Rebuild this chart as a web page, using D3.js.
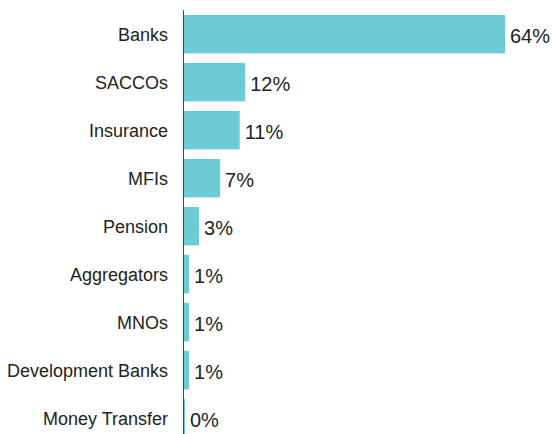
<html>
<head>
<script src="https://d3js.org/d3.v7.min.js"></script>
<style>
  body { margin: 0; background: #fff; }
  svg text { font-family: "Liberation Sans", Arial, sans-serif; fill: #222; }
  .cat { font-size: 18px; text-anchor: end; }
  .val { font-size: 20px; }
</style>
</head>
<body>
<script>
var categories = ["Banks", "SACCOs", "Insurance", "MFIs", "Pension", "Aggregators", "MNOs", "Development Banks", "Money Transfer"];
var values = [64.0, 12.2, 11.1, 7.2, 3.0, 1.0, 1.0, 1.0, 0.2];
var valueLabels = ["64%", "12%", "11%", "7%", "3%", "1%", "1%", "1%", "0%"];

var width = 553, height = 434;
var x0 = 184;

var svg = d3.select("body").append("svg")
  .attr("width", width)
  .attr("height", height);

var x = d3.scaleLinear().domain([0, 64]).range([x0, 505]);
var y = d3.scaleBand().domain(categories)
  .range([10.2, 442.2])
  .paddingInner(0.2)
  .paddingOuter(0.1);

var data = categories.map(function(c, i) {
  return { cat: c, v: values[i], label: valueLabels[i] };
});

// axis line
svg.append("line")
  .attr("x1", x0 - 0.5).attr("x2", x0 - 0.5)
  .attr("y1", y.range()[0]).attr("y2", height)
  .attr("stroke", "#444").attr("stroke-width", 1);

svg.selectAll("rect.bar")
  .data(data)
  .enter().append("rect")
  .attr("class", "bar")
  .attr("x", x(0))
  .attr("y", function(d) { return y(d.cat); })
  .attr("width", function(d) { return Math.max(1, x(d.v) - x(0)); })
  .attr("height", y.bandwidth())
  .attr("fill", "#6ccbd4");

svg.selectAll("text.cat")
  .data(data)
  .enter().append("text")
  .attr("class", "cat")
  .attr("x", 168)
  .attr("y", function(d) { return y(d.cat) + y.bandwidth() / 2; })
  .attr("dy", "0.35em")
  .text(function(d) { return d.cat; });

svg.selectAll("text.val")
  .data(data)
  .enter().append("text")
  .attr("class", "val")
  .attr("x", function(d) { return x(d.v) + 5; })
  .attr("y", function(d) { return y(d.cat) + y.bandwidth() / 2 + 2; })
  .attr("dy", "0.35em")
  .text(function(d) { return d.label; });
</script>
</body>
</html>
